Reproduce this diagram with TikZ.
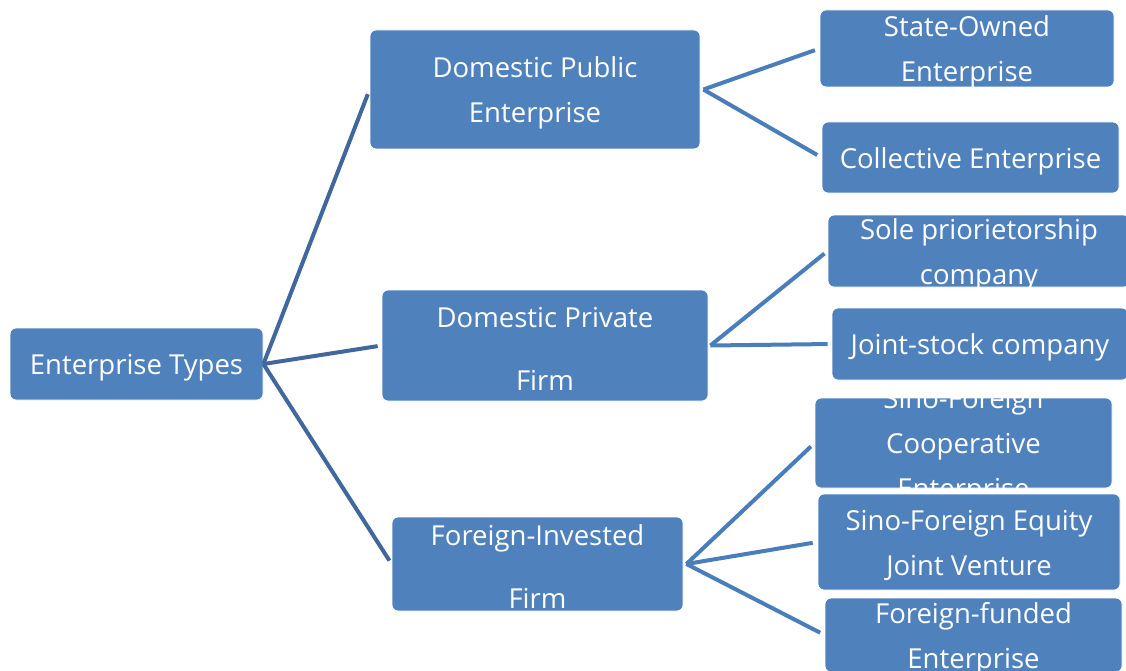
\documentclass[tikz,border=0pt]{standalone}
\usepackage{fontspec}
\setmainfont{Open Sans}
\definecolor{boxblue}{HTML}{4F81BD}
\definecolor{rootline}{HTML}{41689C}
\definecolor{subline}{HTML}{4A7EBB}

\begin{document}
\begin{tikzpicture}[x=1pt,y=-1pt,
  ebox/.style={draw=white,line width=.8pt,fill=boxblue,rounded corners=6pt,inner sep=0pt},
  lbl/.style={path picture={\node[text=white,align=center,yshift=-3.5pt,font=\fontsize{27.5}{45}\selectfont] at (path picture bounding box.center) {#1};}},
  widelbl/.style={path picture={\node[text=white,align=center,yshift=-3pt,font=\fontsize{27.5}{63}\selectfont] at (path picture bounding box.center) {#1};}},
  trunk/.style={draw=rootline,line width=4pt},
  twig/.style={draw=subline,line width=4pt}]
\useasboundingbox (0,0) rectangle (1126,671);
\node[ebox,minimum width=253pt,minimum height=72pt,lbl={Enterprise Types}] (root) at (136.5,364) {};
\node[ebox,minimum width=330pt,minimum height=119pt,lbl={Domestic Public\\Enterprise}] (pub) at (535,89.5) {};
\node[ebox,minimum width=326pt,minimum height=111pt,widelbl={Domestic Private\\Firm}] (priv) at (545,345.5) {};
\node[ebox,minimum width=291pt,minimum height=94pt,widelbl={Foreign-Invested\\Firm}] (fif) at (537.5,564) {};
\node[ebox,minimum width=294pt,minimum height=77pt,lbl={State-Owned\\Enterprise}] (state) at (967,48.5) {};
\node[ebox,minimum width=297pt,minimum height=71pt,lbl={Collective Enterprise}] (coll) at (970.5,157.5) {};
\node[ebox,minimum width=302pt,minimum height=72pt,lbl={Sole priorietorship\\company}] (sole) at (979,251) {};
\node[ebox,minimum width=296pt,minimum height=72pt,lbl={Joint-stock company}] (joint) at (980,344) {};
\node[ebox,minimum width=297pt,minimum height=90pt,lbl={Sino-Foreign\\Cooperative\\Enterprise}] (coop) at (963.5,443) {};
\node[ebox,minimum width=302pt,minimum height=96pt,lbl={Sino-Foreign Equity\\Joint Venture}] (equity) at (969,542) {};
\node[ebox,minimum width=297pt,minimum height=74pt,lbl={Foreign-funded\\Enterprise}] (funded) at (973.5,635) {};
\coordinate (pubfork) at ([xshift=3pt]pub.east);
\coordinate (privfork) at ([xshift=2pt]priv.east);
\coordinate (fiffork) at ([xshift=3pt]fif.east);
\draw[trunk,shorten >=5pt] (root.east) -- (pub.west);
\draw[trunk,shorten >=4pt] (root.east) -- (priv.west);
\draw[trunk,shorten >=4pt] (root.east) -- (fif.west);
\draw[twig,shorten >=5pt] (pubfork) -- (state.west);
\draw[twig,shorten >=5pt] (pubfork) -- (coll.west);
\draw[twig,shorten >=4pt] (privfork) -- (sole.west);
\draw[twig,shorten >=4pt] (privfork) -- (joint.west);
\draw[twig,shorten >=5pt] (fiffork) -- (coop.west);
\draw[twig,shorten >=5pt] (fiffork) -- (equity.west);
\draw[twig,shorten >=5pt] (fiffork) -- (funded.west);
\end{tikzpicture}
\end{document}
